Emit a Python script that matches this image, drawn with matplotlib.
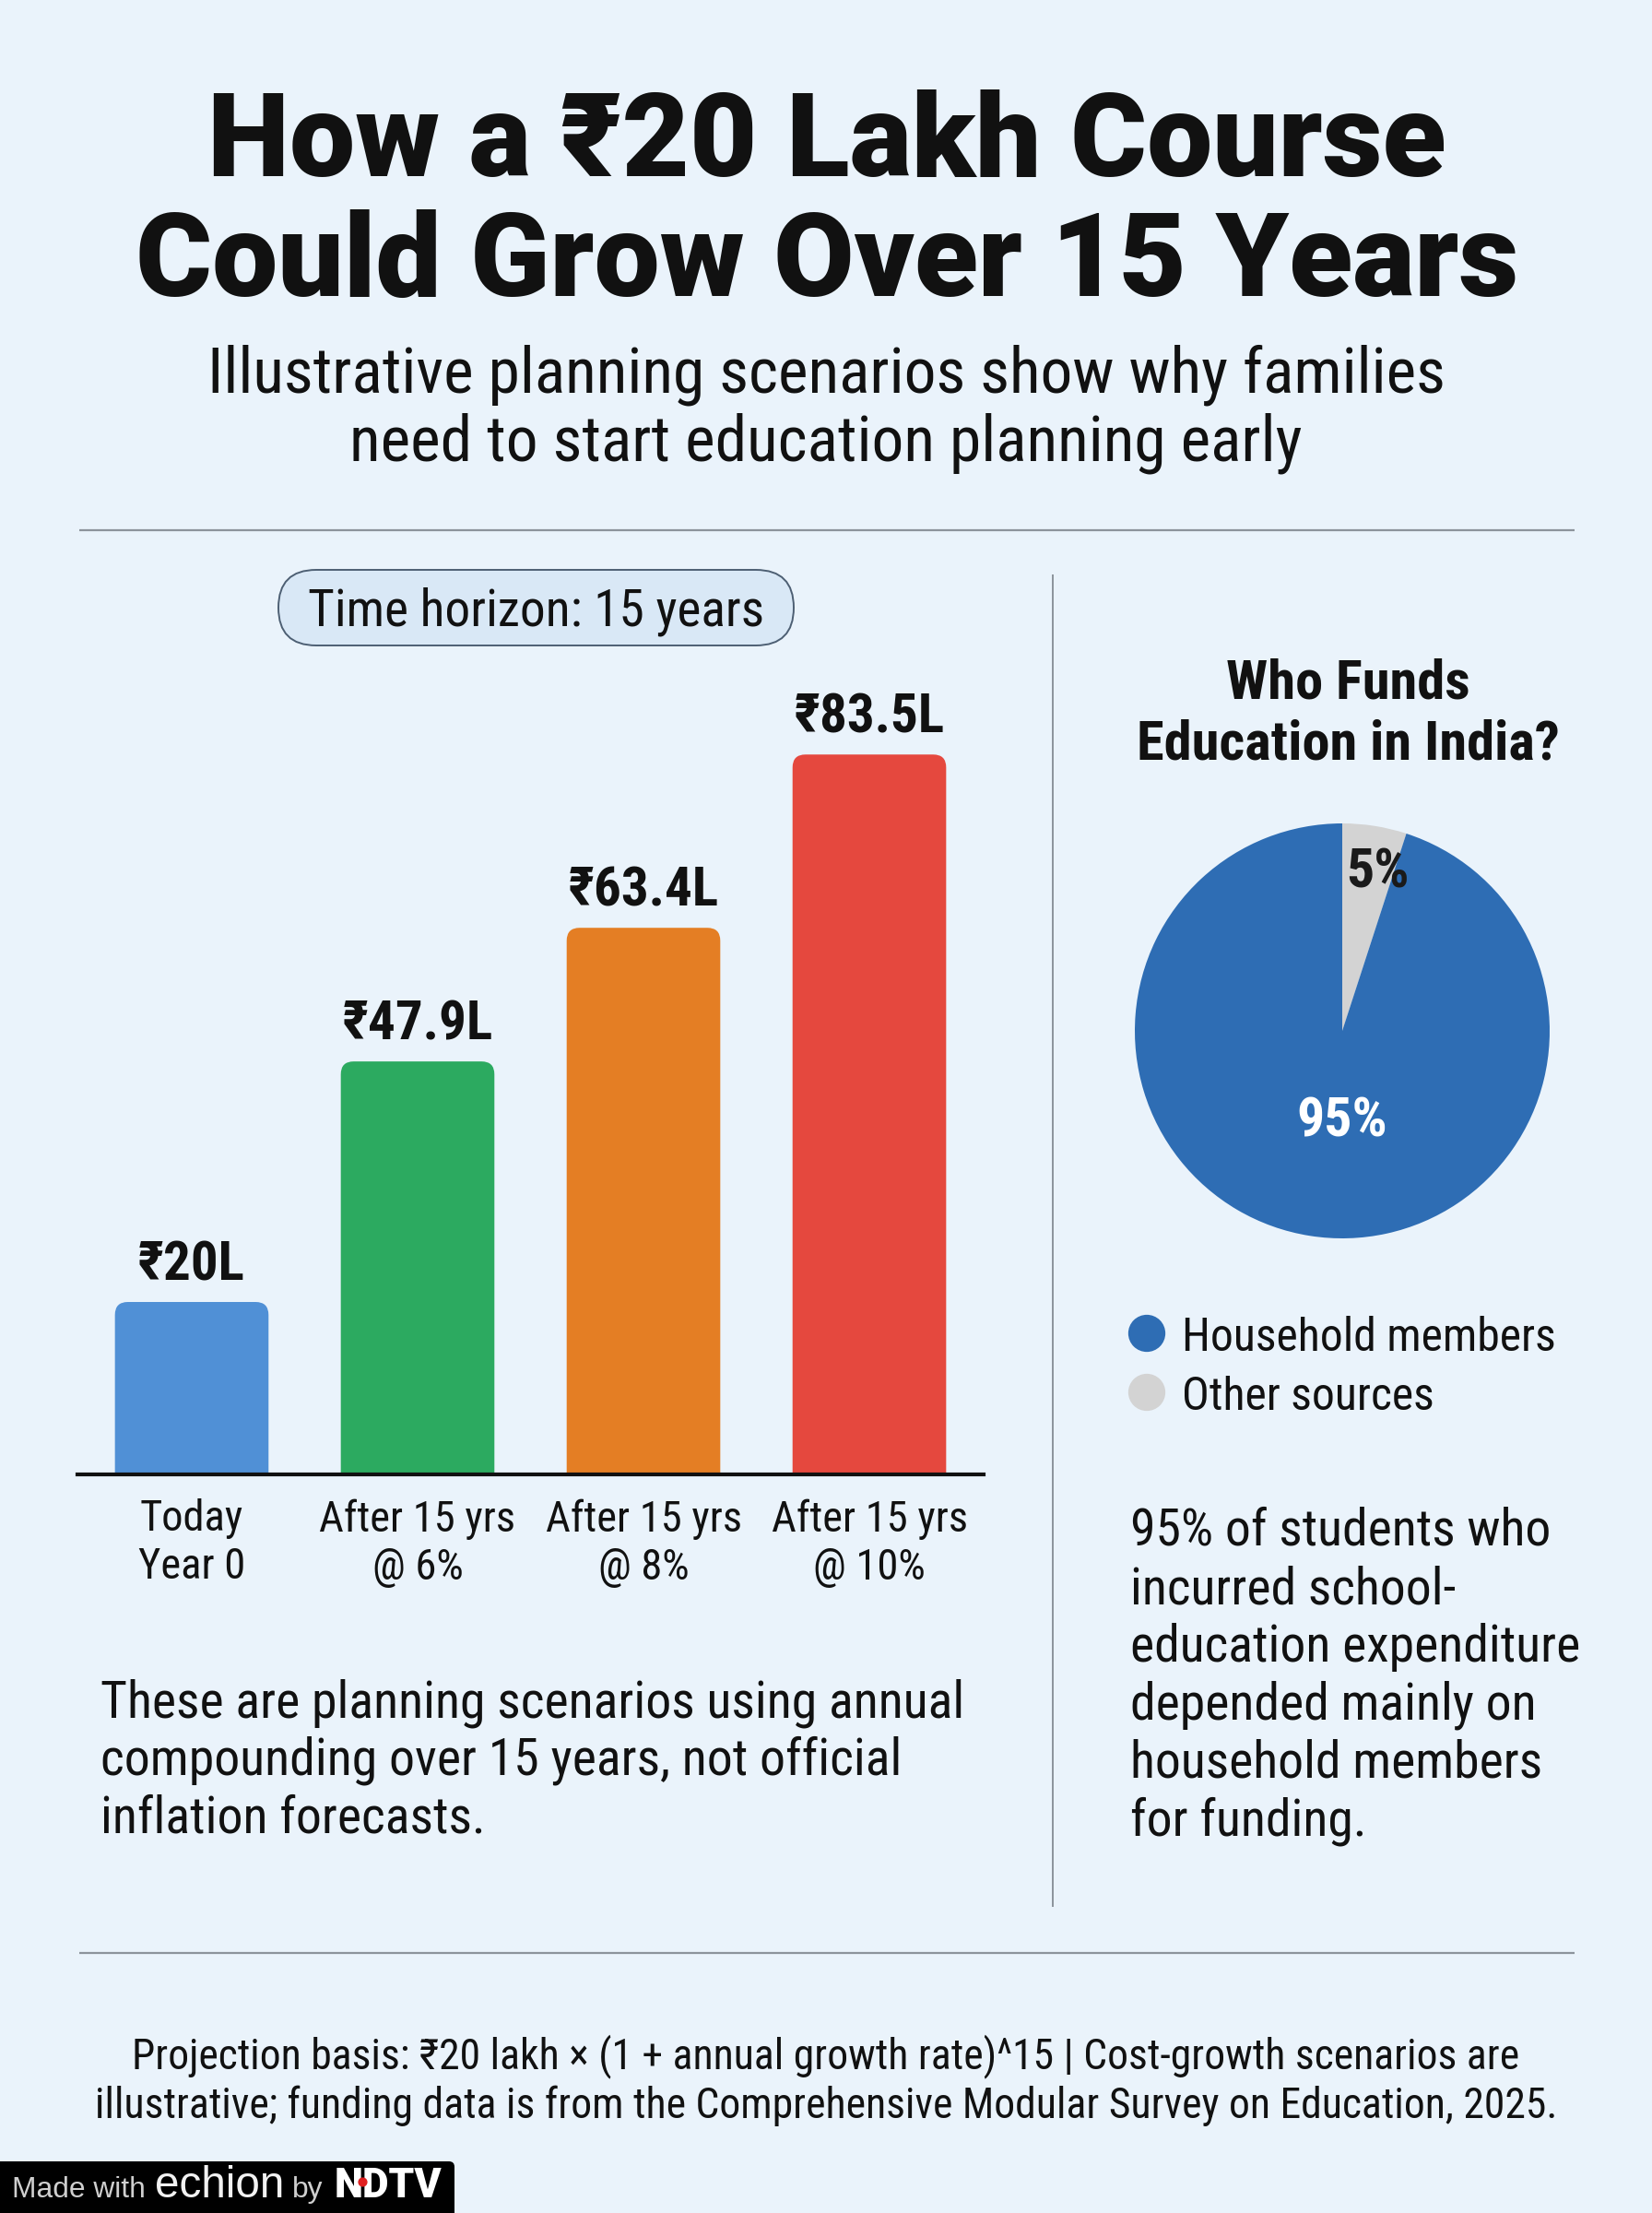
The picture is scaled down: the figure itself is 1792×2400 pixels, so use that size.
import numpy as np
import matplotlib
matplotlib.use("Agg")
import matplotlib.pyplot as plt
from matplotlib import font_manager as fm
from matplotlib.patches import FancyBboxPatch

# ---------------- data ----------------
categories = ["Today\nYear 0", "After 15 yrs\n@ 6%", "After 15 yrs\n@ 8%", "After 15 yrs\n@ 10%"]
values = [20.0, 47.9, 63.4, 83.5]
value_labels = ["₹20L", "₹47.9L", "₹63.4L", "₹83.5L"]
bar_colors = ["#5090D6", "#2CAA60", "#E47E24", "#E5483E"]

pie_labels = ["Other sources", "Household members"]
pie_values = [5, 95]
pie_colors = ["#D3D3D3", "#2E6DB4"]
legend_order = ["Household members", "Other sources"]

title_lines = ["How a ₹20 Lakh Course", "Could Grow Over 15 Years"]
subtitle_lines = ["Illustrative planning scenarios show why families",
                  "need to start education planning early"]
badge_text = "Time horizon: 15 years"
pie_title_lines = ["Who Funds", "Education in India?"]
note_lines = ["These are planning scenarios using annual",
              "compounding over 15 years, not official",
              "inflation forecasts."]
body_lines = ["95% of students who", "incurred school-", "education expenditure",
              "depended mainly on", "household members", "for funding."]
footer_lines = ["Projection basis: ₹20 lakh × (1 + annual growth rate)^15 | Cost-growth scenarios are",
                "illustrative; funding data is from the Comprehensive Modular Survey on Education, 2025."]

# ---------------- fonts ----------------
def pick(names, bold=False):
    avail = {}
    for f in fm.fontManager.ttflist:
        w = f.weight if isinstance(f.weight, int) else (700 if "bold" in str(f.weight) else 400)
        avail.setdefault(f.name, set()).add(w)
    for n in names:
        if n in avail and (not bold or max(avail[n]) >= 700):
            return n
    return "DejaVu Sans"

COND = pick(["Roboto Condensed", "Asap Condensed", "Liberation Sans Narrow", "Roboto"])
COND_B = pick(["Roboto Condensed", "Asap Condensed", "Liberation Sans Narrow", "Roboto"], bold=True)
TITLE_F = pick(["Roboto", "Inter", "Liberation Sans"], bold=True)
LOGO_F = pick(["Liberation Sans", "DejaVu Sans"])

def fam(f):
    return [f, "DejaVu Sans"]

BG = "#EAF3FB"
INK = "#111111"
RULE = "#8C939B"

W, H = 1792, 2400
fig = plt.figure(figsize=(W / 100, H / 100), dpi=100, facecolor=BG)
renderer = fig.canvas.get_renderer()

# overlay axes in pixel coordinates (y downwards)
ax0 = fig.add_axes([0, 0, 1, 1], zorder=0)
ax0.set_xlim(0, W)
ax0.set_ylim(H, 0)
ax0.axis("off")


def fit(t, width):
    bb = t.get_window_extent(renderer)
    t.set_fontsize(t.get_fontsize() * width / bb.width)
    return t.get_fontsize()


def block(lines, x, y0, dy, ref_idx, ref_w, font, weight="normal", ha="left", size=40, color=INK):
    ts = [ax0.text(x, y0 + i * dy, s, ha=ha, va="baseline", fontsize=size,
                   family=fam(font), fontweight=weight, color=color) for i, s in enumerate(lines)]
    fs = fit(ts[ref_idx], ref_w)
    for t in ts:
        t.set_fontsize(fs)
    return ts

# title & subtitle
block(title_lines, 897, 191, 130, 1, 1501, TITLE_F, weight="heavy", ha="center", size=80)
block(subtitle_lines, 896, 425, 74, 0, 1340, COND, ha="center", size=46)

# rules
ax0.plot([86, 1708], [575, 575], color=RULE, lw=1.6, solid_capstyle="butt")
ax0.plot([86, 1708], [2118, 2118], color=RULE, lw=1.6, solid_capstyle="butt")
ax0.plot([1142, 1142], [623, 2068], color=RULE, lw=1.4, solid_capstyle="butt")

# time horizon pill
ax0.add_patch(FancyBboxPatch((302, 618), 559, 82, boxstyle="round,pad=0,rounding_size=41",
                             fc="#D9E8F6", ec="#4D5F73", lw=1.4))
tp = ax0.text(581, 679, badge_text, ha="center", va="baseline", fontsize=42,
              family=fam(COND), color=INK)
fit(tp, 495)

# ---------------- bar chart ----------------
PX_PER_UNIT = 9.35
axb = fig.add_axes([84 / W, 1 - 1599 / H, 983 / W, 879 / H], zorder=2)
axb.patch.set_alpha(0)
x = np.arange(len(values))
bars = axb.bar(x, values, width=0.68, color=bar_colors)
axb.set_xlim(-0.506, 3.506)
axb.set_ylim(0, 879 / PX_PER_UNIT)

p0 = axb.transData.transform((0, 0))
p1 = axb.transData.transform((1, 1))
aspect = (p1[0] - p0[0]) / (p1[1] - p0[1])
rad = 14 / (p1[0] - p0[0])
for rect, c in zip(bars, bar_colors):
    bx, bw, bh = rect.get_x(), rect.get_width(), rect.get_height()
    rect.remove()
    axb.add_patch(FancyBboxPatch((bx, -4), bw, bh + 4,
                                 boxstyle=f"round,pad=0,rounding_size={rad}",
                                 mutation_aspect=aspect, fc=c, ec="none"))

vlabs = []
for xi, v, lab in zip(x, values, value_labels):
    vlabs.append(axb.annotate(lab, (xi, v), xytext=(0, 17), textcoords="offset points",
                              ha="center", va="baseline", fontsize=42, fontweight="bold",
                              family=fam(COND_B), color=INK, annotation_clip=False))
fsv = fit(vlabs[-1], 163)
for t in vlabs:
    t.set_fontsize(fsv)

axb.set_xticks(x, categories)
axb.tick_params(axis="x", length=0, pad=19, labelsize=33.5, labelcolor=INK)
for lab in axb.get_xticklabels():
    lab.set_family(fam(COND))
    lab.set_linespacing(1.22)
axb.set_yticks([])
for s in ["left", "right", "top"]:
    axb.spines[s].set_visible(False)
axb.spines["bottom"].set_linewidth(3)
axb.spines["bottom"].set_color(INK)

block(note_lines, 109, 1862, 63, 0, 937, COND, size=40)

# ---------------- pie ----------------
block(pie_title_lines, 1462, 757, 67, 1, 458, COND_B, weight="bold", ha="center", size=46)

axp = fig.add_axes([1231 / W, 1 - 1343 / H, 450 / W, 450 / H], zorder=2)
wedges, _ = axp.pie(pie_values, colors=pie_colors, startangle=90, counterclock=False,
                    radius=1, wedgeprops=dict(linewidth=0))
axp.set_xlim(-1, 1)
axp.set_ylim(-1, 1)
label_pos = [(0.78, -3.5), (0.44, 9.0)]   # (radius, angle tweak in degrees)
for w, v, (dist, tweak), col in zip(wedges, pie_values, label_pos, ["#1A1A1A", "white"]):
    ang = np.deg2rad((w.theta1 + w.theta2) / 2 + tweak)
    axp.text(dist * np.cos(ang), dist * np.sin(ang), f"{v}%", ha="center", va="center",
             fontsize=43, fontweight="bold", family=fam(COND_B), color=col)

# legend (manual)
col_of = dict(zip(pie_labels, pie_colors))
for i, lab in enumerate(legend_order):
    yy = 1446 + i * 64
    ax0.scatter([1244], [yy], s=29 ** 2, color=col_of[lab], edgecolors="none")
    t = ax0.text(1282, yy + 19, lab, ha="left", va="baseline", fontsize=39,
                 family=fam(COND), color=INK)
    if i == 0:
        fs = fit(t, 406)
    else:
        t.set_fontsize(fs)

block(body_lines, 1226, 1676, 63, 2, 488, COND, size=41)

# ---------------- footer ----------------
block(footer_lines, 896, 2243, 54, 1, 1586, COND, ha="center", size=32)

# made-with badge
ax0.add_patch(FancyBboxPatch((-20, 2344), 513, 80, boxstyle="round,pad=0,rounding_size=6",
                             fc="black", ec="none"))
t1 = ax0.text(13, 2383, "Made with", ha="left", va="baseline", fontsize=22,
              family=fam(LOGO_F), color="#CFCFCF")
fit(t1, 144)
t2 = ax0.text(168, 2383, "echion", ha="left", va="baseline", fontsize=26,
              family=fam(LOGO_F), color="#F2F2F2", fontweight="light")
fit(t2, 140)
t3 = ax0.text(317, 2383, "by", ha="left", va="baseline", fontsize=22,
              family=fam(LOGO_F), color="#CFCFCF")
t3.set_fontsize(t1.get_fontsize())
t4 = ax0.text(363, 2383, "NDTV", ha="left", va="baseline", fontsize=24,
              family=fam(TITLE_F), fontweight="heavy", color="white")
fit(t4, 117)
ax0.scatter([393], [2366], s=40, color="#E02020", zorder=5)

fig.savefig("out.png", dpi=100, facecolor=BG)
